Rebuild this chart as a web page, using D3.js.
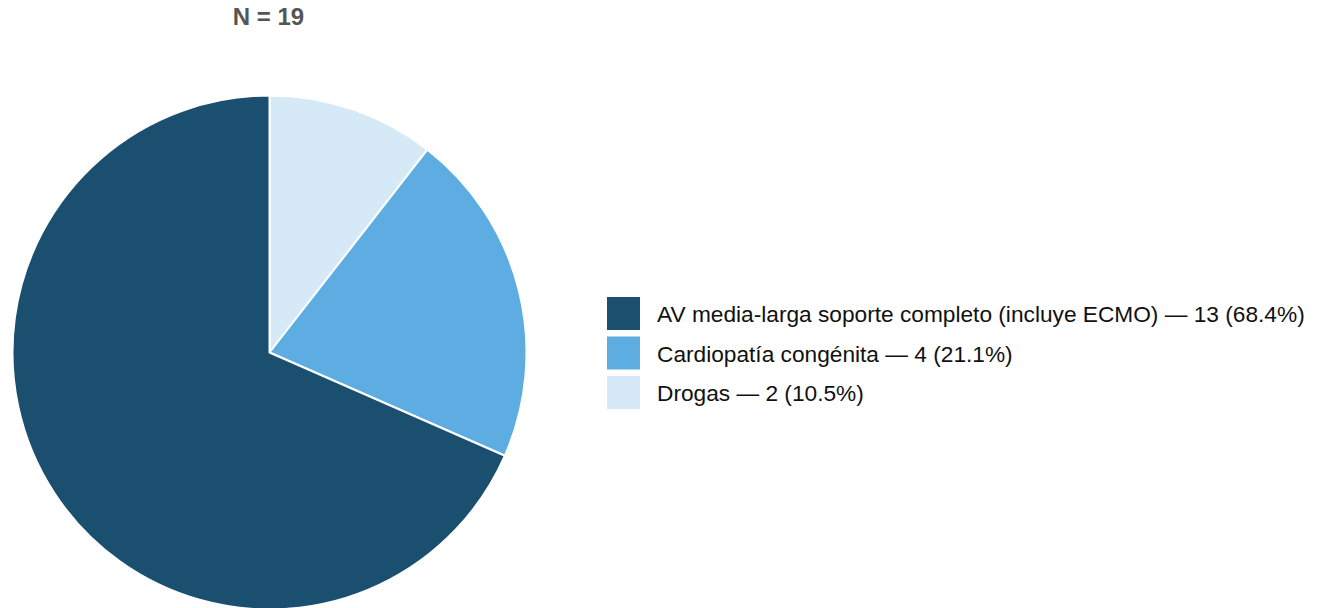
<!DOCTYPE html>
<html><head><meta charset="utf-8">
<script src="https://cdn.jsdelivr.net/npm/d3@7"></script>
<style>html,body{margin:0;padding:0;background:#fff;}svg{display:block;}</style>
</head><body>
<svg id="chart" width="1320" height="608"></svg>
<script>
const categories = ["AV media-larga soporte completo (incluye ECMO)", "Cardiopatía congénita", "Drogas"];
const counts = [13, 4, 2];
const colors = ["#1b4f6f", "#5dade2", "#d6e9f7"];
const title = "N = 19";

const total = d3.sum(counts);
const svg = d3.select("#chart");
const cx = 269.5, cy = 352.5, r = 257;
const FONT = "'Liberation Sans', Arial, sans-serif";

svg.append("text").attr("x", 268.5).attr("y", 25).attr("text-anchor", "middle")
  .style("font-family", FONT).attr("font-weight", "bold")
  .attr("font-size", 24).attr("fill", "#555").text(title);

const data = categories.map((c, i) => ({cat: c, v: counts[i], color: colors[i]}));
// drawn clockwise from top: Drogas, Cardiopatía, AV
const pie = d3.pie().sort(null).value(d => d.v);
const arcs = pie(data.slice().reverse());
const arc = d3.arc().innerRadius(0).outerRadius(r);
svg.append("g").attr("transform", `translate(${cx},${cy})`)
  .selectAll("path").data(arcs).join("path")
  .attr("d", arc).attr("fill", d => d.data.color)
  .attr("stroke", "#fff").attr("stroke-width", 2).attr("stroke-linejoin", "round");

const lg = svg.append("g").attr("transform", "translate(607,297)");
const items = lg.selectAll("g").data(data).join("g")
  .attr("transform", (d, i) => `translate(0,${i * 39.5})`);
items.append("rect").attr("width", 33).attr("height", 33).attr("fill", d => d.color);
items.append("text").attr("x", 50).attr("y", 25)
  .style("font-family", FONT).attr("font-size", 22.7)
  .attr("fill", "#111")
  .text(d => `${d.cat} — ${d.v} (${(d.v / total * 100).toFixed(1)}%)`);
</script>
</body></html>
